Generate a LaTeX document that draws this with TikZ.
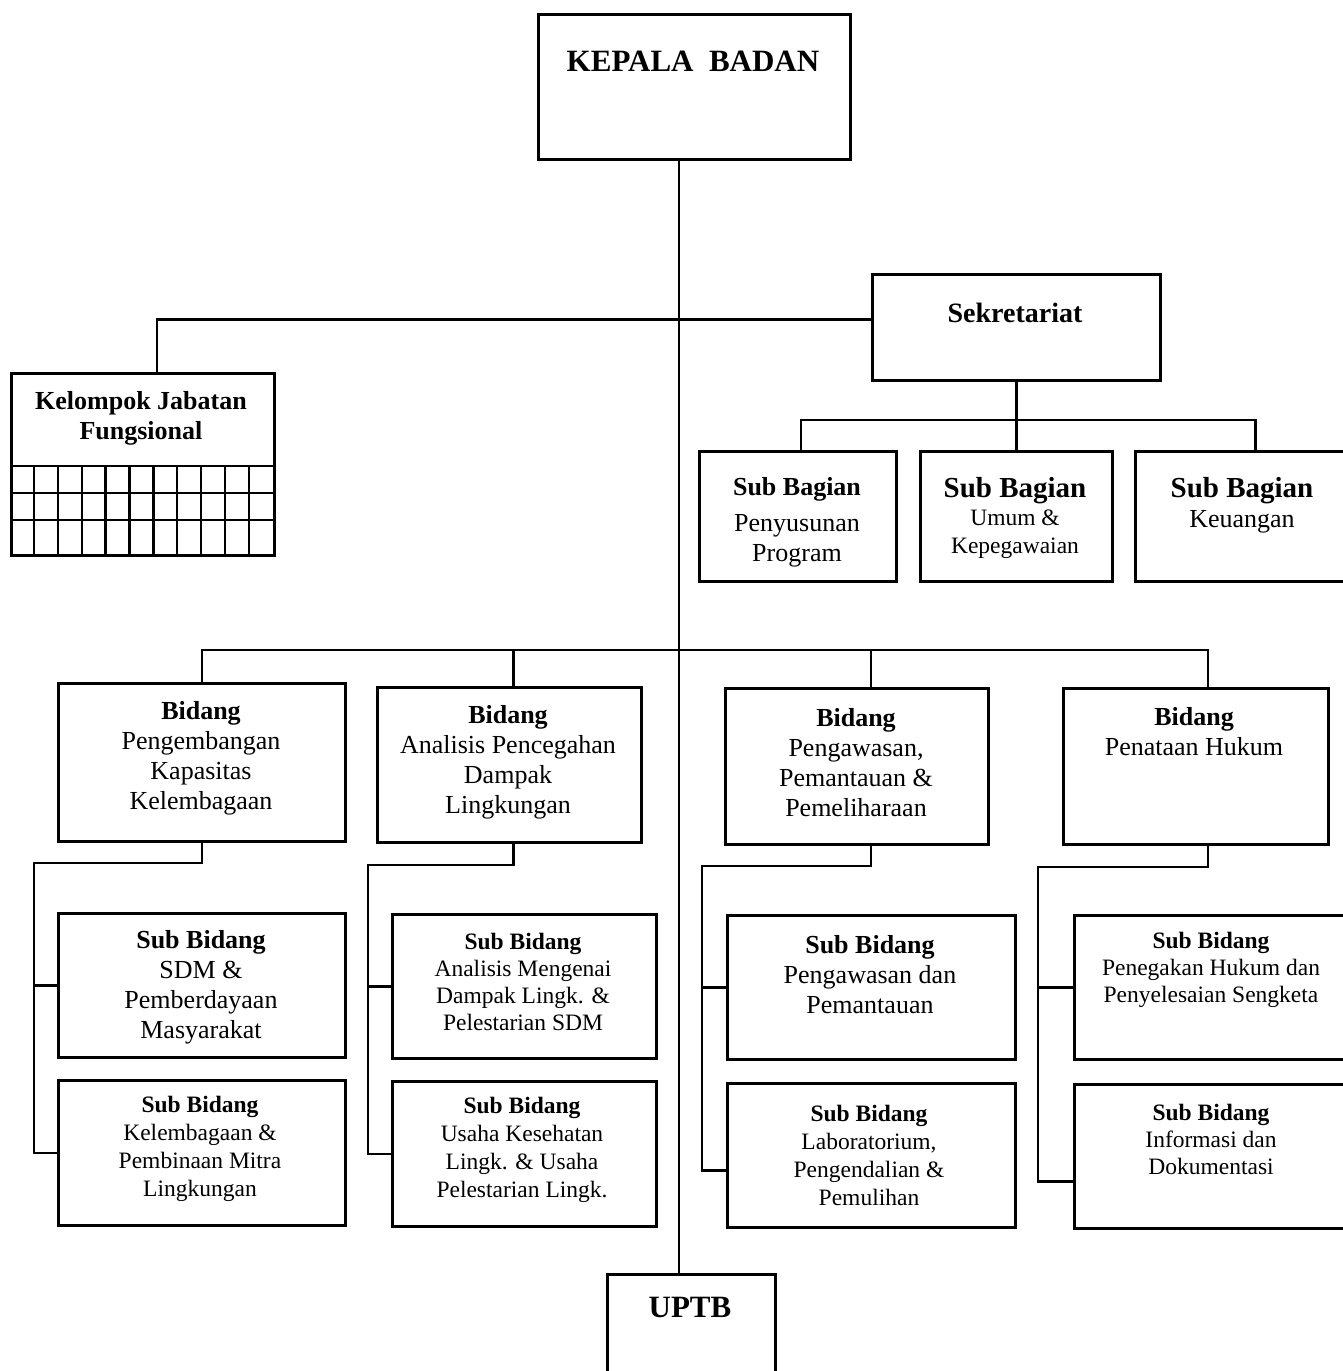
\documentclass[tikz,border=0pt]{standalone}
\usepackage{fontspec}
\setmainfont{Liberation Serif}

\tikzset{
  box/.style={draw, line width=2.7pt, inner sep=0pt, anchor=north west},
  line/.style={line width=2.3pt},
  txt/.style={align=center, font=\fontsize{26}{30}\selectfont},
  txts/.style={align=center, font=\fontsize{23.5}{28}\selectfont},
  head/.style={font=\fontsize{31}{36}\selectfont\bfseries},
}

\begin{document}
\begin{tikzpicture}[x=1pt, y=-1pt]
\useasboundingbox (0,0) rectangle (1343,1371);

% boxes
\foreach \n/\x/\y/\w/\h in {kb/537/13/312/145, sek/871/273/288/106, kjf/10/372/263/182,
  sbp/698/450/197/130, sbu/919/450/192/130, sbk/1134/450/216/130,
  bid1/57/682/287/158, bid2/376/686/264/155, bid3/724/687/263/156, bid4/1062/687/265/156,
  sb1a/57/912/287/144, sb1b/57/1079/287/145, sb2a/391/913/264/144, sb2b/391/1080/264/145,
  sb3a/726/914/288/144, sb3b/726/1082/288/144, sb4a/1073/914/277/144, sb4b/1073/1083/277/144,
  uptb/606/1273/168/102}
{
  \node[box, minimum width=\w pt, minimum height=\h pt] (\n) at (\x,\y) {};
}

% grid of kelompok jabatan fungsional
\foreach \y in {466,493,520}
  \draw[line] (10,\y) -- (273,\y);
\foreach \i in {1,...,10}
  \draw[line] (10+\i*23.9,466) -- (10+\i*23.9,554);

% texts
\node[head] (kb-t) at (693,61) {KEPALA~~BADAN};
\node[txt, font=\fontsize{28}{32}\selectfont\bfseries] (sek-t) at (1015,313) {Sekretariat};
\node[txt, font=\fontsize{26}{30}\selectfont\bfseries] (kjf-t) at (141,418) {Kelompok Jabatan\\Fungsional};
\node[txt] (sbp-t) at (797,522) {\textbf{Sub Bagian}\\[6pt]Penyusunan\\Program};
\node[txts] (sbu-t) at (1015,518) {{\fontsize{29}{30}\selectfont\bfseries Sub Bagian}\\Umum \&\\Kepegawaian};
\node[txt] (sbk-t) at (1242,505) {{\fontsize{29}{30}\selectfont\bfseries Sub Bagian}\\Keuangan};

\node[txt] (bid1-t) at (201,758) {\textbf{Bidang}\\Pengembangan\\Kapasitas\\Kelembagaan};
\node[txt] (bid2-t) at (508,762) {\textbf{Bidang}\\Analisis Pencegahan\\Dampak\\Lingkungan};
\node[txt] (bid3-t) at (856,763) {\textbf{Bidang}\\Pengawasan,\\Pemantauan \&\\Pemeliharaan};
\node[txt] (bid4-t) at (1194,732) {\textbf{Bidang}\\Penataan Hukum};

\node[txt] (sb1a-t) at (201,987) {\textbf{Sub Bidang}\\SDM \&\\Pemberdayaan\\Masyarakat};
\node[txts] (sb1b-t) at (200,1149) {\textbf{Sub Bidang}\\Kelembagaan \&\\Pembinaan Mitra\\Lingkungan};
\node[txts, font=\fontsize{23.5}{27}\selectfont] (sb2a-t) at (523,982) {\textbf{Sub Bidang}\\Analisis Mengenai\\Dampak Lingk. \&\\Pelestarian SDM};
\node[txts] (sb2b-t) at (522,1150) {\textbf{Sub Bidang}\\Usaha Kesehatan\\Lingk. \& Usaha\\Pelestarian Lingk.};
\node[txt] (sb3a-t) at (870,975) {\textbf{Sub Bidang}\\Pengawasan dan\\Pemantauan};
\node[txts] (sb3b-t) at (869,1155) {\textbf{Sub Bidang}\\Laboratorium,\\Pengendalian \&\\Pemulihan};
\node[txts, font=\fontsize{23.5}{27}\selectfont] (sb4a-t) at (1211,970) {\textbf{Sub Bidang}\\Penegakan Hukum dan\\Penyelesaian Sengketa};
\node[txts, font=\fontsize{23.5}{27}\selectfont] (sb4b-t) at (1211,1139) {\textbf{Sub Bidang}\\Informasi dan\\Dokumentasi};

\node[head] (uptb-t) at (690,1307) {UPTB};

% connectors
\coordinate (sp) at (679,0);
\draw[line] (sp |- kb.south) -- (sp |- uptb.north);
\draw[line] ([xshift=14pt]kjf.north) |- ([yshift=8pt]sek.west);

\draw[line] (sek.south) -- (sbu.north);
\draw[line] ([xshift=3pt]sbp.north) -- ++(0,-30) -| ([xshift=12pt]sbk.north);

\coordinate (bbus) at (0,650);
\coordinate (b2n) at ([xshift=4pt]bid2.north);
\coordinate (b3n) at ([xshift=14pt]bid3.north);
\coordinate (b4n) at ([xshift=12pt]bid4.north);
\draw[line] (bid1.north) |- (bbus -| b4n) -- (b4n);
\draw[line] (b2n) -- (b2n |- bbus);
\draw[line] (b3n) -- (b3n |- bbus);

\coordinate (e1) at (34,863);
\draw[line] (bid1.south) |- (e1) |- (sb1b.west);
\draw[line] (e1 |- sb1a.west) -- (sb1a.west);

\coordinate (b2s) at ([xshift=4pt]bid2.south);
\coordinate (e2) at (368,865);
\draw[line] (b2s) |- (e2) |- (sb2b.west);
\draw[line] (e2 |- sb2a.west) -- (sb2a.west);

\coordinate (b3s) at ([xshift=14pt]bid3.south);
\coordinate (e3) at (702,866);
\coordinate (j3) at ([yshift=-15pt]sb3b.west);
\draw[line] (b3s) |- (e3) |- (j3);
\draw[line] (e3 |- sb3a.west) -- (sb3a.west);

\coordinate (b4s) at ([xshift=12pt]bid4.south);
\coordinate (e4) at (1038,867);
\coordinate (j4) at ([yshift=-25pt]sb4b.west);
\draw[line] (b4s) |- (e4) |- (j4);
\draw[line] (e4 |- sb4a.west) -- (sb4a.west);
\end{tikzpicture}
\end{document}
